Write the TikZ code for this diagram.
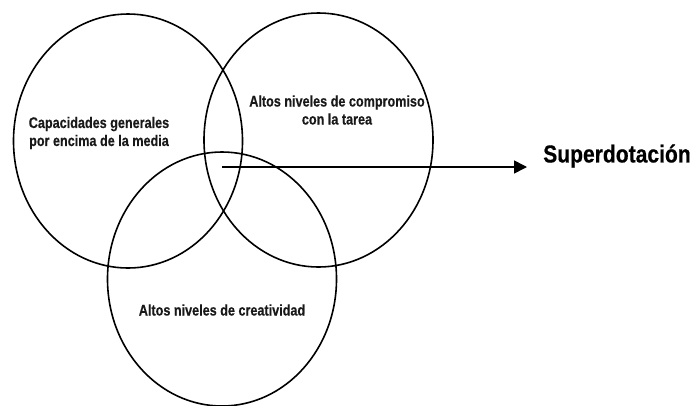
\documentclass[tikz,border=0pt]{standalone}
\usepackage{fontspec}
\setmainfont{Liberation Sans}
\newfontfamily\narrowbold[FakeStretch=0.82,FakeBold=0.4]{Liberation Sans Bold}
\newfontfamily\widerbold[FakeStretch=0.86,FakeBold=0.5]{Liberation Sans Bold}
\usetikzlibrary{shapes.geometric,arrows.meta}
\tikzset{
  setcircle/.style={draw=black, line width=1.6pt, ellipse, minimum width=229pt, minimum height=254pt, inner sep=0pt},
  lbl/.style={font=\narrowbold\fontsize{15.4}{18}\selectfont, align=center, inner sep=0pt, text=black!90},
  bigl/.style={font=\widerbold\fontsize{24.5}{28}\selectfont, anchor=west, inner sep=0pt, text=black},
  conn/.style={line width=1.6pt, -{Triangle[length=13pt,width=13pt]}}
}
\begin{document}
\begin{tikzpicture}[x=1pt,y=-1pt]
\useasboundingbox (0,0) rectangle (692,405);
\node[setcircle] (left) at (128,141) {};
\node[setcircle] (right) at (318.5,140) {};
\node[setcircle] (bottom) at (222,279) {};
\node[lbl] (capac) at (99,133) {Capacidades generales\\por encima de la media};
\node[lbl] (compr) at (337,110) {Altos niveles de compromiso\\con la tarea};
\node[lbl] (creat) at (222,310) {Altos niveles de creatividad};
\node[bigl] (sup) at (543,156) {Superdotación};
\coordinate (start) at (222,167);
\coordinate (tip) at (527,167);
\draw[conn] (start) -- (tip);
\end{tikzpicture}
\end{document}
